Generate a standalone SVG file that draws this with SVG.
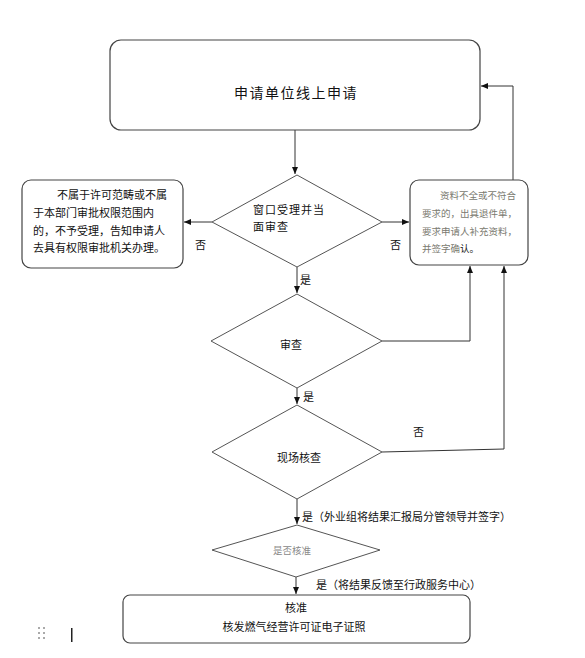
<svg xmlns="http://www.w3.org/2000/svg" width="585" height="658" viewBox="0 0 585 658">
<style>
.box{fill:#fff;stroke:#444;stroke-width:1.2}
.dia{fill:#fff;stroke:#555;stroke-width:1}
.ln{fill:none;stroke:#333;stroke-width:1}
text{font-family:"Noto Sans CJK SC","Liberation Sans",sans-serif;fill:#111}
.t11{font-size:11px}
.t10{font-size:9.5px}
.g{fill:#7a7a70}
</style>
<defs>
<marker id="ah" markerWidth="8" markerHeight="8" refX="7" refY="4" orient="auto" markerUnits="userSpaceOnUse">
<path d="M0,1 L7,4 L0,7 Z" fill="#111"/>
</marker>
</defs>
<rect width="585" height="658" fill="#fff"/>
<g id="connectors">
<line class="ln" x1="295" y1="130" x2="295" y2="174" marker-end="url(#ah)"/>
<line class="ln" x1="212" y1="222" x2="184" y2="222" marker-end="url(#ah)"/>
<line class="ln" x1="382" y1="222" x2="409" y2="222" marker-end="url(#ah)"/>
<polyline class="ln" points="513,180 513,86 481,86" marker-end="url(#ah)"/>
<line class="ln" x1="297" y1="267" x2="297" y2="293" marker-end="url(#ah)"/>
<polyline class="ln" points="382,341 470,341 470,266" marker-end="url(#ah)"/>
<line class="ln" x1="297" y1="388" x2="297" y2="404" marker-end="url(#ah)"/>
<polyline class="ln" points="382,452 504,449 504,266" marker-end="url(#ah)"/>
<line class="ln" x1="297" y1="499" x2="297" y2="524" marker-end="url(#ah)"/>
<line class="ln" x1="296" y1="577" x2="296" y2="594" marker-end="url(#ah)"/>
<text class="t11" x="195" y="249">否</text>
<text class="t11" x="390" y="249">否</text>
<text class="t11" x="300" y="284">是</text>
<text class="t11" x="303" y="401">是</text>
<text class="t11" x="413" y="436">否</text>
<text class="t11" x="302" y="521">是（外业组将结果汇报局分管领导并签字）</text>
<text class="t11" x="316" y="589">是（将结果反馈至行政服务中心）</text>
</g>
<g id="n_apply">
<rect class="box" x="110" y="40" width="370" height="90" rx="11"/>
<text x="296" y="98" font-size="14" text-anchor="middle" letter-spacing="1.5">申请单位线上申请</text>
</g>
<g id="n_window">
<polygon class="dia" points="297,175 382,222 297,267 212,222"/>
<text class="t11" x="253" y="214" letter-spacing="1">窗口受理并当</text>
<text class="t11" x="253" y="231" letter-spacing="1">面审查</text>
</g>
<g id="n_reject">
<rect class="box" x="22" y="180" width="161" height="88" rx="9"/>
<text class="t11" x="57" y="199">不属于许可范畴或不属</text>
<text class="t11" x="33" y="217">于本部门审批权限范围内</text>
<text class="t11" x="33" y="235">的，不予受理，告知申请人</text>
<text class="t11" x="33" y="252">去具有权限审批机关办理。</text>
</g>
<g id="n_supplement">
<rect class="box" x="410" y="180" width="118" height="85" rx="9"/>
<text class="t10 g" x="440" y="199">资料不全或不符合</text>
<text class="t10 g" x="422" y="217">要求的，出具退件单，</text>
<text class="t10 g" x="422" y="235">要求申请人补充资料，</text>
<text class="t10" x="422" y="252"><tspan class="g">并签字确</tspan>认。</text>
</g>
<g id="n_review">
<polygon class="dia" points="297,294 382,341 297,388 211,341"/>
<text class="t11" x="280" y="349">审查</text>
</g>
<g id="n_site">
<polygon class="dia" points="297,405 382,452 297,499 212,452"/>
<text class="t11" x="277" y="462">现场核查</text>
</g>
<g id="n_approve_q">
<polygon class="dia" points="297,525 380,550 296,577 212,550"/>
<text class="t10" x="273" y="554" style="fill:#888">是否核准</text>
</g>
<g id="n_final">
<rect class="box" x="123" y="595" width="347" height="48" rx="7"/>
<text class="t11" x="296" y="612" text-anchor="middle">核准</text>
<text class="t11" x="294" y="631" text-anchor="middle">核发燃气经营许可证电子证照</text>
</g>
<g id="artifacts" fill="#aaa">
<rect x="38" y="627" width="2" height="2"/><rect x="43" y="627" width="2" height="2"/>
<rect x="38" y="632" width="2" height="2"/><rect x="43" y="632" width="2" height="2"/>
<rect x="38" y="637" width="2" height="2"/><rect x="43" y="637" width="2" height="2"/>
<rect x="71" y="628" width="1.5" height="14" fill="#222"/>
</g>
</svg>
